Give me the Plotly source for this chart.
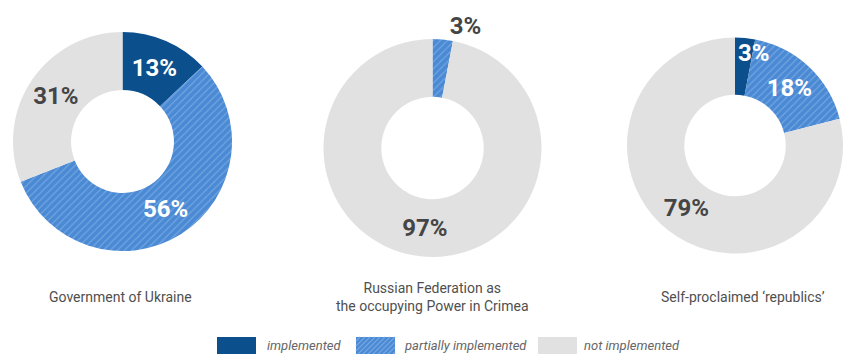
import math
import plotly.graph_objects as go

W, H = 843, 354

categories = ["implemented", "partially implemented", "not implemented"]
gov_ukraine = [13, 56, 31]
russian_fed = [0, 3, 97]
republics = [3, 18, 79]
titles = ["Government of Ukraine",
          "Russian Federation as<br>the occupying Power in Crimea",
          "Self-proclaimed ‘republics’"]

C_IMPL = "#0b4f8c"
C_PART = "#4a89d3"
C_PART_LINE = "#72a5e1"
C_NOT = "#e1e1e1"
TXT_DARK = "#454545"
FONT = "Roboto"

# pixel boxes (left, top, size) for each donut
boxes = [(13, 32, 219), (323.5, 39, 218), (627, 37.5, 216)]

def dom(b):
    l, t, s = b
    return dict(x=[l / W, (l + s) / W], y=[1 - (t + s) / H, 1 - t / H])

fig = go.Figure()
series = [gov_ukraine, russian_fed, republics]
positions = [["inside", "inside", "inside"],
             ["none", "outside", "inside"],
             ["none", "inside", "inside"]]
for vals, box, pos in zip(series, boxes, positions):
    fig.add_trace(go.Pie(
        labels=categories, values=vals, sort=False, direction="clockwise",
        rotation=0, hole=0.47, domain=dom(box),
        marker=dict(colors=[C_IMPL, C_PART, C_NOT], line=dict(width=0),
                    pattern=dict(shape=["", "/", ""], fgcolor=C_PART_LINE,
                                 bgcolor=[C_IMPL, C_PART, C_NOT],
                                 size=5, solidity=0.25, fillmode="replace")),
        texttemplate="%{value}%", textposition=pos,
        insidetextorientation="horizontal",
        insidetextfont=dict(family=FONT, size=24, color=["white", "white", TXT_DARK], weight="bold"),
        outsidetextfont=dict(family=FONT, size=24, color=TXT_DARK, weight="bold"),
        showlegend=False, hoverinfo="label+percent",
    ))

# small "implemented" label of the third donut, placed just right of the 12 o'clock edge
l, t, s = boxes[2]
cx, cy, R = l + s / 2, t + s / 2, s / 2
fig.add_annotation(x=(cx + 1) / W, y=1 - (cy - 0.855 * R) / H, xref="paper", yref="paper",
                   text=f"{republics[0]}%", showarrow=False, xanchor="left", yanchor="middle",
                   font=dict(family=FONT, size=24, color="white", weight="bold"))

# titles under donuts
title_pos = [(120, 297), (432, 297), (743, 297)]
for tt, (x, y) in zip(titles, title_pos):
    fig.add_annotation(x=x / W, y=1 - y / H, xref="paper", yref="paper",
                       text=tt, showarrow=False, xanchor="center", yanchor="middle",
                       font=dict(family=FONT, size=14, color="#4f4f4f"))

# legend swatches
SW_T, SW_B, SW_W = 337, 356, 39
shapes = []
sw = [(217, C_IMPL), (356, C_PART), (538, C_NOT)]
for x0, c in sw:
    shapes.append(dict(type="rect", xref="paper", yref="paper",
                       x0=x0 / W, x1=(x0 + SW_W) / W, y0=1 - SW_B / H, y1=1 - SW_T / H,
                       fillcolor=c, line=dict(width=0), layer="above"))

# hatch lines (45 deg) clipped to the partially-implemented swatch
hx0, hx1 = 356, 356 + SW_W
hgt = SW_B - SW_T
for k in range(-6, 14):
    a = hx0 + k * 5  # x at the bottom edge; line goes up-right
    # parametric: x = a + u, y = SW_B - u, u in [0, hgt]
    u0 = max(0, hx0 - a)
    u1 = min(hgt, hx1 - a)
    if u1 <= u0:
        continue
    shapes.append(dict(type="line", xref="paper", yref="paper",
                       x0=(a + u0) / W, y0=1 - (SW_B - u0) / H,
                       x1=(a + u1) / W, y1=1 - (SW_B - u1) / H,
                       line=dict(color=C_PART_LINE, width=1.3), layer="above"))
fig.update_layout(shapes=shapes)

leg_text = [(265, "implemented"), (402, "partially implemented"), (582, "not implemented")]
for x, tt in leg_text:
    fig.add_annotation(x=x / W, y=1 - 345 / H, xref="paper", yref="paper", text=tt,
                       showarrow=False, xanchor="left", yanchor="middle",
                       font=dict(family=FONT, size=13, color="#666666", style="italic"))

fig.update_layout(width=W, height=H, margin=dict(l=0, r=0, t=0, b=0),
                  paper_bgcolor="white", plot_bgcolor="white",
                  uniformtext=dict(minsize=24, mode="show"))

fig.write_html("out.html")
